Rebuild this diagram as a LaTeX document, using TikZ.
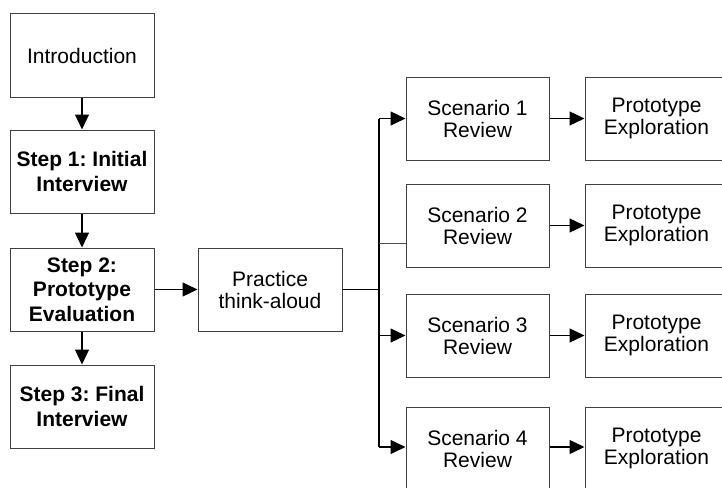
\documentclass[tikz,border=0pt]{standalone}
\usepackage{fontspec}
\setmainfont{Liberation Sans}
\usetikzlibrary{arrows.meta}
\frenchspacing
\begin{document}
\begin{tikzpicture}[x=1pt,y=-1pt,
  box/.style={draw=black!75, line width=1pt, rectangle, minimum width=144pt,
    minimum height=83pt, align=center, inner sep=2pt,
    font=\fontsize{21}{22}\selectfont},
  boldbox/.style={box, font=\fontsize{21}{24.5}\selectfont\bfseries},
  arr/.style={line width=1.3pt, -{Triangle[length=15pt,width=14pt]}},
  link/.style={line width=1.3pt},
  thinlink/.style={draw=black!70, line width=1pt}]
  \clip (0,0) rectangle (722,487);

  % left column: interview steps
  \node[box]     (intro) at (82,55.5)  {Introduction};
  \node[boldbox] (step1) at (82,171.5) {Step 1: Initial\\Interview};
  \node[boldbox] (step2) at (82,289.5) {Step 2:\\Prototype\\Evaluation};
  \node[boldbox] (step3) at (82,406.5) {Step 3: Final\\Interview};

  \node[box] (prac) at (270,289.5) {Practice\\think-aloud};

  % scenario reviews and prototype explorations
  \node[box, minimum width=143pt] (s1) at (477.5,118.5) {Scenario 1\\Review};
  \node[box, minimum width=143pt] (s2) at (477.5,225.5) {Scenario 2\\Review};
  \node[box, minimum width=143pt] (s3) at (477.5,335.5) {Scenario 3\\Review};
  \node[box, minimum width=143pt] (s4) at (477.5,448.5) {Scenario 4\\Review};

  \node[box, minimum width=143pt] (p1) at (656.5,118.5) {Prototype\\Exploration};
  \node[box, minimum width=143pt] (p2) at (656.5,225.5) {Prototype\\Exploration};
  \node[box, minimum width=143pt] (p3) at (656.5,335.5) {Prototype\\Exploration};
  \node[box, minimum width=143pt] (p4) at (656.5,448.5) {Prototype\\Exploration};

  % branching trunk
  \coordinate (tmid) at (379,289.5);
  \coordinate (t1) at (379,118.5);
  \coordinate (t2) at (379,243);
  \coordinate (t3) at (379,335.5);
  \coordinate (t4) at (379,447);

  % connectors
  \draw[arr] (intro) -- (step1);
  \draw[arr] (step1) -- (step2);
  \draw[arr] (step2) -- (step3);
  \draw[arr] (step2) -- (prac);
  \draw[link] (prac.east) -- (tmid);
  \draw[link] (t1) -- (t4);
  \draw[arr] (t1) -- (t1 -| s1.west);
  \draw[thinlink] (t2) -- (t2 -| s2.west);
  \draw[arr] (t3) -- (t3 -| s3.west);
  \draw[arr] (t4) -- (t4 -| s4.west);

  \draw[arr] (s1) -- (p1);
  \draw[arr] (s2) -- (p2);
  \draw[arr] (s3) -- (p3);
  \draw[arr] (s4.east |- t4) -- (p4.west |- t4);
\end{tikzpicture}
\end{document}
